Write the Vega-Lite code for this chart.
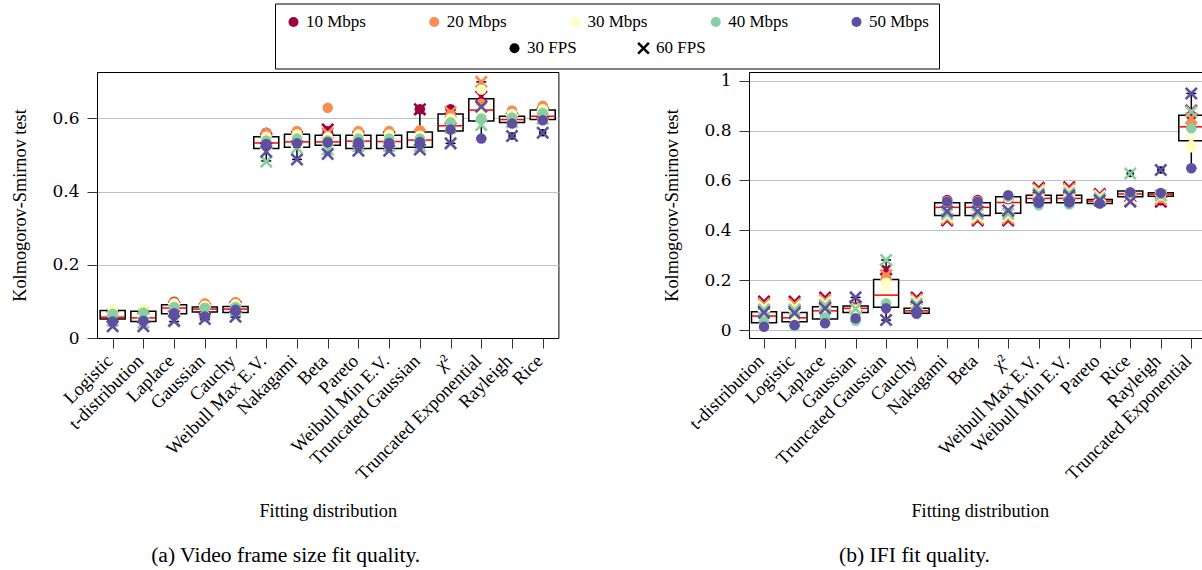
{
  "$schema": "https://vega.github.io/schema/vega-lite/v6.json",
  "autosize": {"type": "pad"},
  "padding": {"left": 9, "top": 3, "right": 0, "bottom": 0},
  "bounds": "flush",
  "spacing": 190,
  "resolve": {"scale": {"x": "independent", "y": "independent"}, "axis": {"x": "independent", "y": "independent"}},
  "datasets": {
    "box": [
      {"p":"a","c":"Logistic","lo":0.034,"q1":0.052,"md":0.057,"q3":0.075,"hi":0.080},
      {"p":"a","c":"t-distribution","lo":0.032,"q1":0.045,"md":0.055,"q3":0.073,"hi":0.082},
      {"p":"a","c":"Laplace","lo":0.045,"q1":0.066,"md":0.082,"q3":0.091,"hi":0.099},
      {"p":"a","c":"Gaussian","lo":0.050,"q1":0.071,"md":0.079,"q3":0.085,"hi":0.095},
      {"p":"a","c":"Cauchy","lo":0.057,"q1":0.070,"md":0.079,"q3":0.086,"hi":0.097},
      {"p":"a","c":"Weibull Max E.V.","lo":0.484,"q1":0.518,"md":0.533,"q3":0.550,"hi":0.561},
      {"p":"a","c":"Nakagami","lo":0.488,"q1":0.521,"md":0.536,"q3":0.557,"hi":0.566},
      {"p":"a","c":"Beta","lo":0.503,"q1":0.527,"md":0.536,"q3":0.554,"hi":0.570},
      {"p":"a","c":"Pareto","lo":0.512,"q1":0.518,"md":0.538,"q3":0.554,"hi":0.566},
      {"p":"a","c":"Weibull Min E.V.","lo":0.512,"q1":0.518,"md":0.537,"q3":0.554,"hi":0.566},
      {"p":"a","c":"Truncated Gaussian","lo":0.515,"q1":0.521,"md":0.541,"q3":0.563,"hi":0.625},
      {"p":"a","c":"χ²","lo":0.532,"q1":0.566,"md":0.580,"q3":0.612,"hi":0.625},
      {"p":"a","c":"Truncated Exponential","lo":0.545,"q1":0.593,"md":0.623,"q3":0.654,"hi":0.700},
      {"p":"a","c":"Rayleigh","lo":0.586,"q1":0.589,"md":0.597,"q3":0.606,"hi":0.622},
      {"p":"a","c":"Rice","lo":0.595,"q1":0.597,"md":0.606,"q3":0.623,"hi":0.635},
      {"p":"b","c":"t-distribution","lo":0.013,"q1":0.029,"md":0.056,"q3":0.073,"hi":0.114},
      {"p":"b","c":"Logistic","lo":0.015,"q1":0.033,"md":0.049,"q3":0.070,"hi":0.114},
      {"p":"b","c":"Laplace","lo":0.027,"q1":0.044,"md":0.077,"q3":0.093,"hi":0.130},
      {"p":"b","c":"Gaussian","lo":0.037,"q1":0.070,"md":0.087,"q3":0.096,"hi":0.131},
      {"p":"b","c":"Truncated Gaussian","lo":0.040,"q1":0.091,"md":0.140,"q3":0.203,"hi":0.281},
      {"p":"b","c":"Cauchy","lo":0.065,"q1":0.067,"md":0.077,"q3":0.087,"hi":0.130},
      {"p":"b","c":"Nakagami","lo":0.440,"q1":0.459,"md":0.492,"q3":0.511,"hi":0.522},
      {"p":"b","c":"Beta","lo":0.440,"q1":0.459,"md":0.492,"q3":0.511,"hi":0.522},
      {"p":"b","c":"χ²","lo":0.440,"q1":0.468,"md":0.512,"q3":0.535,"hi":0.541},
      {"p":"b","c":"Weibull Max E.V.","lo":0.500,"q1":0.511,"md":0.528,"q3":0.541,"hi":0.570},
      {"p":"b","c":"Weibull Min E.V.","lo":0.503,"q1":0.511,"md":0.528,"q3":0.541,"hi":0.572},
      {"p":"b","c":"Pareto","lo":0.507,"q1":0.508,"md":0.517,"q3":0.524,"hi":0.545},
      {"p":"b","c":"Rice","lo":0.515,"q1":0.535,"md":0.546,"q3":0.558,"hi":0.558},
      {"p":"b","c":"Rayleigh","lo":0.515,"q1":0.537,"md":0.545,"q3":0.551,"hi":0.551},
      {"p":"b","c":"Truncated Exponential","lo":0.649,"q1":0.759,"md":0.815,"q3":0.862,"hi":0.949}
    ],
    "out": [
      {"p":"a","c":"Beta","v":0.629},
      {"p":"a","c":"Rayleigh","v":0.552},
      {"p":"a","c":"Rice","v":0.561},
      {"p":"b","c":"Rice","v":0.628},
      {"p":"b","c":"Rayleigh","v":0.642}
    ],
    "pts": [
      {"p":"a","c":"Logistic","r":"10 Mbps","f":"30 FPS","v":0.068},{"p":"a","c":"Logistic","r":"10 Mbps","f":"60 FPS","v":0.058},{"p":"a","c":"Logistic","r":"20 Mbps","f":"30 FPS","v":0.072},{"p":"a","c":"Logistic","r":"20 Mbps","f":"60 FPS","v":0.056},{"p":"a","c":"Logistic","r":"30 Mbps","f":"30 FPS","v":0.079},{"p":"a","c":"Logistic","r":"30 Mbps","f":"60 FPS","v":0.054},{"p":"a","c":"Logistic","r":"40 Mbps","f":"30 FPS","v":0.066},{"p":"a","c":"Logistic","r":"40 Mbps","f":"60 FPS","v":0.048},{"p":"a","c":"Logistic","r":"50 Mbps","f":"30 FPS","v":0.045},{"p":"a","c":"Logistic","r":"50 Mbps","f":"60 FPS","v":0.032},
      {"p":"a","c":"t-distribution","r":"10 Mbps","f":"30 FPS","v":0.068},{"p":"a","c":"t-distribution","r":"10 Mbps","f":"60 FPS","v":0.055},{"p":"a","c":"t-distribution","r":"20 Mbps","f":"30 FPS","v":0.074},{"p":"a","c":"t-distribution","r":"20 Mbps","f":"60 FPS","v":0.052},{"p":"a","c":"t-distribution","r":"30 Mbps","f":"30 FPS","v":0.082},{"p":"a","c":"t-distribution","r":"30 Mbps","f":"60 FPS","v":0.050},{"p":"a","c":"t-distribution","r":"40 Mbps","f":"30 FPS","v":0.070},{"p":"a","c":"t-distribution","r":"40 Mbps","f":"60 FPS","v":0.042},{"p":"a","c":"t-distribution","r":"50 Mbps","f":"30 FPS","v":0.047},{"p":"a","c":"t-distribution","r":"50 Mbps","f":"60 FPS","v":0.032},
      {"p":"a","c":"Laplace","r":"10 Mbps","f":"30 FPS","v":0.099},{"p":"a","c":"Laplace","r":"10 Mbps","f":"60 FPS","v":0.085},{"p":"a","c":"Laplace","r":"20 Mbps","f":"30 FPS","v":0.097},{"p":"a","c":"Laplace","r":"20 Mbps","f":"60 FPS","v":0.083},{"p":"a","c":"Laplace","r":"30 Mbps","f":"30 FPS","v":0.094},{"p":"a","c":"Laplace","r":"30 Mbps","f":"60 FPS","v":0.080},{"p":"a","c":"Laplace","r":"40 Mbps","f":"30 FPS","v":0.085},{"p":"a","c":"Laplace","r":"40 Mbps","f":"60 FPS","v":0.045},{"p":"a","c":"Laplace","r":"50 Mbps","f":"30 FPS","v":0.068},{"p":"a","c":"Laplace","r":"50 Mbps","f":"60 FPS","v":0.047},
      {"p":"a","c":"Gaussian","r":"10 Mbps","f":"30 FPS","v":0.090},{"p":"a","c":"Gaussian","r":"10 Mbps","f":"60 FPS","v":0.080},{"p":"a","c":"Gaussian","r":"20 Mbps","f":"30 FPS","v":0.095},{"p":"a","c":"Gaussian","r":"20 Mbps","f":"60 FPS","v":0.078},{"p":"a","c":"Gaussian","r":"30 Mbps","f":"30 FPS","v":0.088},{"p":"a","c":"Gaussian","r":"30 Mbps","f":"60 FPS","v":0.075},{"p":"a","c":"Gaussian","r":"40 Mbps","f":"30 FPS","v":0.083},{"p":"a","c":"Gaussian","r":"40 Mbps","f":"60 FPS","v":0.070},{"p":"a","c":"Gaussian","r":"50 Mbps","f":"30 FPS","v":0.059},{"p":"a","c":"Gaussian","r":"50 Mbps","f":"60 FPS","v":0.052},
      {"p":"a","c":"Cauchy","r":"10 Mbps","f":"30 FPS","v":0.097},{"p":"a","c":"Cauchy","r":"10 Mbps","f":"60 FPS","v":0.085},{"p":"a","c":"Cauchy","r":"20 Mbps","f":"30 FPS","v":0.097},{"p":"a","c":"Cauchy","r":"20 Mbps","f":"60 FPS","v":0.082},{"p":"a","c":"Cauchy","r":"30 Mbps","f":"30 FPS","v":0.092},{"p":"a","c":"Cauchy","r":"30 Mbps","f":"60 FPS","v":0.080},{"p":"a","c":"Cauchy","r":"40 Mbps","f":"30 FPS","v":0.085},{"p":"a","c":"Cauchy","r":"40 Mbps","f":"60 FPS","v":0.075},{"p":"a","c":"Cauchy","r":"50 Mbps","f":"30 FPS","v":0.077},{"p":"a","c":"Cauchy","r":"50 Mbps","f":"60 FPS","v":0.058},
      {"p":"a","c":"Weibull Max E.V.","r":"10 Mbps","f":"30 FPS","v":0.561},{"p":"a","c":"Weibull Max E.V.","r":"10 Mbps","f":"60 FPS","v":0.545},{"p":"a","c":"Weibull Max E.V.","r":"20 Mbps","f":"30 FPS","v":0.560},{"p":"a","c":"Weibull Max E.V.","r":"20 Mbps","f":"60 FPS","v":0.540},{"p":"a","c":"Weibull Max E.V.","r":"30 Mbps","f":"30 FPS","v":0.550},{"p":"a","c":"Weibull Max E.V.","r":"30 Mbps","f":"60 FPS","v":0.530},{"p":"a","c":"Weibull Max E.V.","r":"40 Mbps","f":"30 FPS","v":0.540},{"p":"a","c":"Weibull Max E.V.","r":"40 Mbps","f":"60 FPS","v":0.482},{"p":"a","c":"Weibull Max E.V.","r":"50 Mbps","f":"30 FPS","v":0.530},{"p":"a","c":"Weibull Max E.V.","r":"50 Mbps","f":"60 FPS","v":0.509},
      {"p":"a","c":"Nakagami","r":"10 Mbps","f":"30 FPS","v":0.563},{"p":"a","c":"Nakagami","r":"10 Mbps","f":"60 FPS","v":0.550},{"p":"a","c":"Nakagami","r":"20 Mbps","f":"30 FPS","v":0.566},{"p":"a","c":"Nakagami","r":"20 Mbps","f":"60 FPS","v":0.545},{"p":"a","c":"Nakagami","r":"30 Mbps","f":"30 FPS","v":0.556},{"p":"a","c":"Nakagami","r":"30 Mbps","f":"60 FPS","v":0.535},{"p":"a","c":"Nakagami","r":"40 Mbps","f":"30 FPS","v":0.545},{"p":"a","c":"Nakagami","r":"40 Mbps","f":"60 FPS","v":0.520},{"p":"a","c":"Nakagami","r":"50 Mbps","f":"30 FPS","v":0.532},{"p":"a","c":"Nakagami","r":"50 Mbps","f":"60 FPS","v":0.488},
      {"p":"a","c":"Beta","r":"10 Mbps","f":"30 FPS","v":0.565},{"p":"a","c":"Beta","r":"10 Mbps","f":"60 FPS","v":0.570},{"p":"a","c":"Beta","r":"20 Mbps","f":"30 FPS","v":0.629},{"p":"a","c":"Beta","r":"20 Mbps","f":"60 FPS","v":0.560},{"p":"a","c":"Beta","r":"30 Mbps","f":"30 FPS","v":0.550},{"p":"a","c":"Beta","r":"30 Mbps","f":"60 FPS","v":0.530},{"p":"a","c":"Beta","r":"40 Mbps","f":"30 FPS","v":0.540},{"p":"a","c":"Beta","r":"40 Mbps","f":"60 FPS","v":0.515},{"p":"a","c":"Beta","r":"50 Mbps","f":"30 FPS","v":0.535},{"p":"a","c":"Beta","r":"50 Mbps","f":"60 FPS","v":0.503},
      {"p":"a","c":"Pareto","r":"10 Mbps","f":"30 FPS","v":0.562},{"p":"a","c":"Pareto","r":"10 Mbps","f":"60 FPS","v":0.550},{"p":"a","c":"Pareto","r":"20 Mbps","f":"30 FPS","v":0.566},{"p":"a","c":"Pareto","r":"20 Mbps","f":"60 FPS","v":0.545},{"p":"a","c":"Pareto","r":"30 Mbps","f":"30 FPS","v":0.556},{"p":"a","c":"Pareto","r":"30 Mbps","f":"60 FPS","v":0.535},{"p":"a","c":"Pareto","r":"40 Mbps","f":"30 FPS","v":0.545},{"p":"a","c":"Pareto","r":"40 Mbps","f":"60 FPS","v":0.525},{"p":"a","c":"Pareto","r":"50 Mbps","f":"30 FPS","v":0.534},{"p":"a","c":"Pareto","r":"50 Mbps","f":"60 FPS","v":0.512},
      {"p":"a","c":"Weibull Min E.V.","r":"10 Mbps","f":"30 FPS","v":0.562},{"p":"a","c":"Weibull Min E.V.","r":"10 Mbps","f":"60 FPS","v":0.550},{"p":"a","c":"Weibull Min E.V.","r":"20 Mbps","f":"30 FPS","v":0.566},{"p":"a","c":"Weibull Min E.V.","r":"20 Mbps","f":"60 FPS","v":0.545},{"p":"a","c":"Weibull Min E.V.","r":"30 Mbps","f":"30 FPS","v":0.556},{"p":"a","c":"Weibull Min E.V.","r":"30 Mbps","f":"60 FPS","v":0.535},{"p":"a","c":"Weibull Min E.V.","r":"40 Mbps","f":"30 FPS","v":0.545},{"p":"a","c":"Weibull Min E.V.","r":"40 Mbps","f":"60 FPS","v":0.525},{"p":"a","c":"Weibull Min E.V.","r":"50 Mbps","f":"30 FPS","v":0.533},{"p":"a","c":"Weibull Min E.V.","r":"50 Mbps","f":"60 FPS","v":0.512},
      {"p":"a","c":"Truncated Gaussian","r":"10 Mbps","f":"30 FPS","v":0.625},{"p":"a","c":"Truncated Gaussian","r":"10 Mbps","f":"60 FPS","v":0.625},{"p":"a","c":"Truncated Gaussian","r":"20 Mbps","f":"30 FPS","v":0.568},{"p":"a","c":"Truncated Gaussian","r":"20 Mbps","f":"60 FPS","v":0.555},{"p":"a","c":"Truncated Gaussian","r":"30 Mbps","f":"30 FPS","v":0.553},{"p":"a","c":"Truncated Gaussian","r":"30 Mbps","f":"60 FPS","v":0.540},{"p":"a","c":"Truncated Gaussian","r":"40 Mbps","f":"30 FPS","v":0.545},{"p":"a","c":"Truncated Gaussian","r":"40 Mbps","f":"60 FPS","v":0.525},{"p":"a","c":"Truncated Gaussian","r":"50 Mbps","f":"30 FPS","v":0.536},{"p":"a","c":"Truncated Gaussian","r":"50 Mbps","f":"60 FPS","v":0.515},
      {"p":"a","c":"χ²","r":"10 Mbps","f":"30 FPS","v":0.625},{"p":"a","c":"χ²","r":"10 Mbps","f":"60 FPS","v":0.600},{"p":"a","c":"χ²","r":"20 Mbps","f":"30 FPS","v":0.610},{"p":"a","c":"χ²","r":"20 Mbps","f":"60 FPS","v":0.617},{"p":"a","c":"χ²","r":"30 Mbps","f":"30 FPS","v":0.600},{"p":"a","c":"χ²","r":"30 Mbps","f":"60 FPS","v":0.585},{"p":"a","c":"χ²","r":"40 Mbps","f":"30 FPS","v":0.590},{"p":"a","c":"χ²","r":"40 Mbps","f":"60 FPS","v":0.575},{"p":"a","c":"χ²","r":"50 Mbps","f":"30 FPS","v":0.570},{"p":"a","c":"χ²","r":"50 Mbps","f":"60 FPS","v":0.532},
      {"p":"a","c":"Truncated Exponential","r":"10 Mbps","f":"30 FPS","v":0.645},{"p":"a","c":"Truncated Exponential","r":"10 Mbps","f":"60 FPS","v":0.660},{"p":"a","c":"Truncated Exponential","r":"20 Mbps","f":"30 FPS","v":0.640},{"p":"a","c":"Truncated Exponential","r":"20 Mbps","f":"60 FPS","v":0.700},{"p":"a","c":"Truncated Exponential","r":"30 Mbps","f":"30 FPS","v":0.679},{"p":"a","c":"Truncated Exponential","r":"30 Mbps","f":"60 FPS","v":0.620},{"p":"a","c":"Truncated Exponential","r":"40 Mbps","f":"30 FPS","v":0.600},{"p":"a","c":"Truncated Exponential","r":"40 Mbps","f":"60 FPS","v":0.582},{"p":"a","c":"Truncated Exponential","r":"50 Mbps","f":"30 FPS","v":0.545},{"p":"a","c":"Truncated Exponential","r":"50 Mbps","f":"60 FPS","v":0.632},
      {"p":"a","c":"Rayleigh","r":"10 Mbps","f":"30 FPS","v":0.615},{"p":"a","c":"Rayleigh","r":"10 Mbps","f":"60 FPS","v":0.600},{"p":"a","c":"Rayleigh","r":"20 Mbps","f":"30 FPS","v":0.622},{"p":"a","c":"Rayleigh","r":"20 Mbps","f":"60 FPS","v":0.598},{"p":"a","c":"Rayleigh","r":"30 Mbps","f":"30 FPS","v":0.612},{"p":"a","c":"Rayleigh","r":"30 Mbps","f":"60 FPS","v":0.595},{"p":"a","c":"Rayleigh","r":"40 Mbps","f":"30 FPS","v":0.603},{"p":"a","c":"Rayleigh","r":"40 Mbps","f":"60 FPS","v":0.590},{"p":"a","c":"Rayleigh","r":"50 Mbps","f":"30 FPS","v":0.586},{"p":"a","c":"Rayleigh","r":"50 Mbps","f":"60 FPS","v":0.552},
      {"p":"a","c":"Rice","r":"10 Mbps","f":"30 FPS","v":0.628},{"p":"a","c":"Rice","r":"10 Mbps","f":"60 FPS","v":0.615},{"p":"a","c":"Rice","r":"20 Mbps","f":"30 FPS","v":0.635},{"p":"a","c":"Rice","r":"20 Mbps","f":"60 FPS","v":0.612},{"p":"a","c":"Rice","r":"30 Mbps","f":"30 FPS","v":0.625},{"p":"a","c":"Rice","r":"30 Mbps","f":"60 FPS","v":0.606},{"p":"a","c":"Rice","r":"40 Mbps","f":"30 FPS","v":0.615},{"p":"a","c":"Rice","r":"40 Mbps","f":"60 FPS","v":0.600},{"p":"a","c":"Rice","r":"50 Mbps","f":"30 FPS","v":0.595},{"p":"a","c":"Rice","r":"50 Mbps","f":"60 FPS","v":0.561},
      {"p":"b","c":"t-distribution","r":"10 Mbps","f":"30 FPS","v":0.060},{"p":"b","c":"t-distribution","r":"10 Mbps","f":"60 FPS","v":0.114},{"p":"b","c":"t-distribution","r":"20 Mbps","f":"30 FPS","v":0.055},{"p":"b","c":"t-distribution","r":"20 Mbps","f":"60 FPS","v":0.104},{"p":"b","c":"t-distribution","r":"30 Mbps","f":"30 FPS","v":0.050},{"p":"b","c":"t-distribution","r":"30 Mbps","f":"60 FPS","v":0.094},{"p":"b","c":"t-distribution","r":"40 Mbps","f":"30 FPS","v":0.035},{"p":"b","c":"t-distribution","r":"40 Mbps","f":"60 FPS","v":0.082},{"p":"b","c":"t-distribution","r":"50 Mbps","f":"30 FPS","v":0.013},{"p":"b","c":"t-distribution","r":"50 Mbps","f":"60 FPS","v":0.070},
      {"p":"b","c":"Logistic","r":"10 Mbps","f":"30 FPS","v":0.055},{"p":"b","c":"Logistic","r":"10 Mbps","f":"60 FPS","v":0.114},{"p":"b","c":"Logistic","r":"20 Mbps","f":"30 FPS","v":0.050},{"p":"b","c":"Logistic","r":"20 Mbps","f":"60 FPS","v":0.104},{"p":"b","c":"Logistic","r":"30 Mbps","f":"30 FPS","v":0.045},{"p":"b","c":"Logistic","r":"30 Mbps","f":"60 FPS","v":0.094},{"p":"b","c":"Logistic","r":"40 Mbps","f":"30 FPS","v":0.015},{"p":"b","c":"Logistic","r":"40 Mbps","f":"60 FPS","v":0.082},{"p":"b","c":"Logistic","r":"50 Mbps","f":"30 FPS","v":0.020},{"p":"b","c":"Logistic","r":"50 Mbps","f":"60 FPS","v":0.068},
      {"p":"b","c":"Laplace","r":"10 Mbps","f":"30 FPS","v":0.080},{"p":"b","c":"Laplace","r":"10 Mbps","f":"60 FPS","v":0.130},{"p":"b","c":"Laplace","r":"20 Mbps","f":"30 FPS","v":0.075},{"p":"b","c":"Laplace","r":"20 Mbps","f":"60 FPS","v":0.120},{"p":"b","c":"Laplace","r":"30 Mbps","f":"30 FPS","v":0.070},{"p":"b","c":"Laplace","r":"30 Mbps","f":"60 FPS","v":0.110},{"p":"b","c":"Laplace","r":"40 Mbps","f":"30 FPS","v":0.050},{"p":"b","c":"Laplace","r":"40 Mbps","f":"60 FPS","v":0.100},{"p":"b","c":"Laplace","r":"50 Mbps","f":"30 FPS","v":0.027},{"p":"b","c":"Laplace","r":"50 Mbps","f":"60 FPS","v":0.087},
      {"p":"b","c":"Gaussian","r":"10 Mbps","f":"30 FPS","v":0.090},{"p":"b","c":"Gaussian","r":"10 Mbps","f":"60 FPS","v":0.095},{"p":"b","c":"Gaussian","r":"20 Mbps","f":"30 FPS","v":0.085},{"p":"b","c":"Gaussian","r":"20 Mbps","f":"60 FPS","v":0.092},{"p":"b","c":"Gaussian","r":"30 Mbps","f":"30 FPS","v":0.080},{"p":"b","c":"Gaussian","r":"30 Mbps","f":"60 FPS","v":0.088},{"p":"b","c":"Gaussian","r":"40 Mbps","f":"30 FPS","v":0.037},{"p":"b","c":"Gaussian","r":"40 Mbps","f":"60 FPS","v":0.085},{"p":"b","c":"Gaussian","r":"50 Mbps","f":"30 FPS","v":0.047},{"p":"b","c":"Gaussian","r":"50 Mbps","f":"60 FPS","v":0.131},
      {"p":"b","c":"Truncated Gaussian","r":"10 Mbps","f":"30 FPS","v":0.225},{"p":"b","c":"Truncated Gaussian","r":"10 Mbps","f":"60 FPS","v":0.243},{"p":"b","c":"Truncated Gaussian","r":"20 Mbps","f":"30 FPS","v":0.210},{"p":"b","c":"Truncated Gaussian","r":"20 Mbps","f":"60 FPS","v":0.220},{"p":"b","c":"Truncated Gaussian","r":"30 Mbps","f":"30 FPS","v":0.190},{"p":"b","c":"Truncated Gaussian","r":"30 Mbps","f":"60 FPS","v":0.174},{"p":"b","c":"Truncated Gaussian","r":"40 Mbps","f":"30 FPS","v":0.107},{"p":"b","c":"Truncated Gaussian","r":"40 Mbps","f":"60 FPS","v":0.281},{"p":"b","c":"Truncated Gaussian","r":"50 Mbps","f":"30 FPS","v":0.087},{"p":"b","c":"Truncated Gaussian","r":"50 Mbps","f":"60 FPS","v":0.040},
      {"p":"b","c":"Cauchy","r":"10 Mbps","f":"30 FPS","v":0.080},{"p":"b","c":"Cauchy","r":"10 Mbps","f":"60 FPS","v":0.130},{"p":"b","c":"Cauchy","r":"20 Mbps","f":"30 FPS","v":0.078},{"p":"b","c":"Cauchy","r":"20 Mbps","f":"60 FPS","v":0.122},{"p":"b","c":"Cauchy","r":"30 Mbps","f":"30 FPS","v":0.075},{"p":"b","c":"Cauchy","r":"30 Mbps","f":"60 FPS","v":0.114},{"p":"b","c":"Cauchy","r":"40 Mbps","f":"30 FPS","v":0.070},{"p":"b","c":"Cauchy","r":"40 Mbps","f":"60 FPS","v":0.105},{"p":"b","c":"Cauchy","r":"50 Mbps","f":"30 FPS","v":0.065},{"p":"b","c":"Cauchy","r":"50 Mbps","f":"60 FPS","v":0.095},
      {"p":"b","c":"Nakagami","r":"10 Mbps","f":"30 FPS","v":0.522},{"p":"b","c":"Nakagami","r":"10 Mbps","f":"60 FPS","v":0.440},{"p":"b","c":"Nakagami","r":"20 Mbps","f":"30 FPS","v":0.518},{"p":"b","c":"Nakagami","r":"20 Mbps","f":"60 FPS","v":0.447},{"p":"b","c":"Nakagami","r":"30 Mbps","f":"30 FPS","v":0.515},{"p":"b","c":"Nakagami","r":"30 Mbps","f":"60 FPS","v":0.455},{"p":"b","c":"Nakagami","r":"40 Mbps","f":"30 FPS","v":0.513},{"p":"b","c":"Nakagami","r":"40 Mbps","f":"60 FPS","v":0.465},{"p":"b","c":"Nakagami","r":"50 Mbps","f":"30 FPS","v":0.515},{"p":"b","c":"Nakagami","r":"50 Mbps","f":"60 FPS","v":0.476},
      {"p":"b","c":"Beta","r":"10 Mbps","f":"30 FPS","v":0.522},{"p":"b","c":"Beta","r":"10 Mbps","f":"60 FPS","v":0.440},{"p":"b","c":"Beta","r":"20 Mbps","f":"30 FPS","v":0.518},{"p":"b","c":"Beta","r":"20 Mbps","f":"60 FPS","v":0.447},{"p":"b","c":"Beta","r":"30 Mbps","f":"30 FPS","v":0.515},{"p":"b","c":"Beta","r":"30 Mbps","f":"60 FPS","v":0.455},{"p":"b","c":"Beta","r":"40 Mbps","f":"30 FPS","v":0.513},{"p":"b","c":"Beta","r":"40 Mbps","f":"60 FPS","v":0.465},{"p":"b","c":"Beta","r":"50 Mbps","f":"30 FPS","v":0.515},{"p":"b","c":"Beta","r":"50 Mbps","f":"60 FPS","v":0.476},
      {"p":"b","c":"χ²","r":"10 Mbps","f":"30 FPS","v":0.525},{"p":"b","c":"χ²","r":"10 Mbps","f":"60 FPS","v":0.440},{"p":"b","c":"χ²","r":"20 Mbps","f":"30 FPS","v":0.528},{"p":"b","c":"χ²","r":"20 Mbps","f":"60 FPS","v":0.448},{"p":"b","c":"χ²","r":"30 Mbps","f":"30 FPS","v":0.530},{"p":"b","c":"χ²","r":"30 Mbps","f":"60 FPS","v":0.457},{"p":"b","c":"χ²","r":"40 Mbps","f":"30 FPS","v":0.535},{"p":"b","c":"χ²","r":"40 Mbps","f":"60 FPS","v":0.466},{"p":"b","c":"χ²","r":"50 Mbps","f":"30 FPS","v":0.541},{"p":"b","c":"χ²","r":"50 Mbps","f":"60 FPS","v":0.480},
      {"p":"b","c":"Weibull Max E.V.","r":"10 Mbps","f":"30 FPS","v":0.520},{"p":"b","c":"Weibull Max E.V.","r":"10 Mbps","f":"60 FPS","v":0.570},{"p":"b","c":"Weibull Max E.V.","r":"20 Mbps","f":"30 FPS","v":0.518},{"p":"b","c":"Weibull Max E.V.","r":"20 Mbps","f":"60 FPS","v":0.563},{"p":"b","c":"Weibull Max E.V.","r":"30 Mbps","f":"30 FPS","v":0.515},{"p":"b","c":"Weibull Max E.V.","r":"30 Mbps","f":"60 FPS","v":0.556},{"p":"b","c":"Weibull Max E.V.","r":"40 Mbps","f":"30 FPS","v":0.500},{"p":"b","c":"Weibull Max E.V.","r":"40 Mbps","f":"60 FPS","v":0.548},{"p":"b","c":"Weibull Max E.V.","r":"50 Mbps","f":"30 FPS","v":0.510},{"p":"b","c":"Weibull Max E.V.","r":"50 Mbps","f":"60 FPS","v":0.540},
      {"p":"b","c":"Weibull Min E.V.","r":"10 Mbps","f":"30 FPS","v":0.520},{"p":"b","c":"Weibull Min E.V.","r":"10 Mbps","f":"60 FPS","v":0.572},{"p":"b","c":"Weibull Min E.V.","r":"20 Mbps","f":"30 FPS","v":0.518},{"p":"b","c":"Weibull Min E.V.","r":"20 Mbps","f":"60 FPS","v":0.565},{"p":"b","c":"Weibull Min E.V.","r":"30 Mbps","f":"30 FPS","v":0.515},{"p":"b","c":"Weibull Min E.V.","r":"30 Mbps","f":"60 FPS","v":0.557},{"p":"b","c":"Weibull Min E.V.","r":"40 Mbps","f":"30 FPS","v":0.503},{"p":"b","c":"Weibull Min E.V.","r":"40 Mbps","f":"60 FPS","v":0.549},{"p":"b","c":"Weibull Min E.V.","r":"50 Mbps","f":"30 FPS","v":0.512},{"p":"b","c":"Weibull Min E.V.","r":"50 Mbps","f":"60 FPS","v":0.540},
      {"p":"b","c":"Pareto","r":"10 Mbps","f":"30 FPS","v":0.515},{"p":"b","c":"Pareto","r":"10 Mbps","f":"60 FPS","v":0.545},{"p":"b","c":"Pareto","r":"20 Mbps","f":"30 FPS","v":0.512},{"p":"b","c":"Pareto","r":"20 Mbps","f":"60 FPS","v":0.540},{"p":"b","c":"Pareto","r":"30 Mbps","f":"30 FPS","v":0.510},{"p":"b","c":"Pareto","r":"30 Mbps","f":"60 FPS","v":0.535},{"p":"b","c":"Pareto","r":"40 Mbps","f":"30 FPS","v":0.508},{"p":"b","c":"Pareto","r":"40 Mbps","f":"60 FPS","v":0.528},{"p":"b","c":"Pareto","r":"50 Mbps","f":"30 FPS","v":0.507},{"p":"b","c":"Pareto","r":"50 Mbps","f":"60 FPS","v":0.520},
      {"p":"b","c":"Rice","r":"10 Mbps","f":"30 FPS","v":0.550},{"p":"b","c":"Rice","r":"10 Mbps","f":"60 FPS","v":0.535},{"p":"b","c":"Rice","r":"20 Mbps","f":"30 FPS","v":0.548},{"p":"b","c":"Rice","r":"20 Mbps","f":"60 FPS","v":0.520},{"p":"b","c":"Rice","r":"30 Mbps","f":"30 FPS","v":0.552},{"p":"b","c":"Rice","r":"30 Mbps","f":"60 FPS","v":0.530},{"p":"b","c":"Rice","r":"40 Mbps","f":"30 FPS","v":0.550},{"p":"b","c":"Rice","r":"40 Mbps","f":"60 FPS","v":0.628},{"p":"b","c":"Rice","r":"50 Mbps","f":"30 FPS","v":0.553},{"p":"b","c":"Rice","r":"50 Mbps","f":"60 FPS","v":0.515},
      {"p":"b","c":"Rayleigh","r":"10 Mbps","f":"30 FPS","v":0.520},{"p":"b","c":"Rayleigh","r":"10 Mbps","f":"60 FPS","v":0.515},{"p":"b","c":"Rayleigh","r":"20 Mbps","f":"30 FPS","v":0.530},{"p":"b","c":"Rayleigh","r":"20 Mbps","f":"60 FPS","v":0.525},{"p":"b","c":"Rayleigh","r":"30 Mbps","f":"30 FPS","v":0.540},{"p":"b","c":"Rayleigh","r":"30 Mbps","f":"60 FPS","v":0.535},{"p":"b","c":"Rayleigh","r":"40 Mbps","f":"30 FPS","v":0.545},{"p":"b","c":"Rayleigh","r":"40 Mbps","f":"60 FPS","v":0.540},{"p":"b","c":"Rayleigh","r":"50 Mbps","f":"30 FPS","v":0.550},{"p":"b","c":"Rayleigh","r":"50 Mbps","f":"60 FPS","v":0.642},
      {"p":"b","c":"Truncated Exponential","r":"10 Mbps","f":"30 FPS","v":0.860},{"p":"b","c":"Truncated Exponential","r":"10 Mbps","f":"60 FPS","v":0.880},{"p":"b","c":"Truncated Exponential","r":"20 Mbps","f":"30 FPS","v":0.830},{"p":"b","c":"Truncated Exponential","r":"20 Mbps","f":"60 FPS","v":0.850},{"p":"b","c":"Truncated Exponential","r":"30 Mbps","f":"30 FPS","v":0.733},{"p":"b","c":"Truncated Exponential","r":"30 Mbps","f":"60 FPS","v":0.760},{"p":"b","c":"Truncated Exponential","r":"40 Mbps","f":"30 FPS","v":0.809},{"p":"b","c":"Truncated Exponential","r":"40 Mbps","f":"60 FPS","v":0.876},{"p":"b","c":"Truncated Exponential","r":"50 Mbps","f":"30 FPS","v":0.649},{"p":"b","c":"Truncated Exponential","r":"50 Mbps","f":"60 FPS","v":0.949}
    ]
  },
  "hconcat": [
    {
      "width": 461.4,
      "height": 266,
      "title": {"text": "(a) Video frame size fit quality.", "orient": "bottom", "anchor": "middle", "frame": "group", "dx": -42, "offset": 26},
      "encoding": {
        "x": {"field": "c", "type": "nominal", "scale": {"type": "point", "domain": ["Logistic","t-distribution","Laplace","Gaussian","Cauchy","Weibull Max E.V.","Nakagami","Beta","Pareto","Weibull Min E.V.","Truncated Gaussian","χ²","Truncated Exponential","Rayleigh","Rice"], "padding": 0.51}, "axis": {"title": "Fitting distribution", "titleY": 164}}
      },
      "layer": [
        {"data": {"name": "box"}, "transform": [{"filter": "datum.p == 'a'"}], "mark": {"type": "rule", "color": "black", "strokeWidth": 1.5},
         "encoding": {"y": {"field": "lo", "type": "quantitative", "scale": {"domain": [0, 0.727], "nice": false, "zero": false}, "axis": {"values": [0, 0.2, 0.4, 0.6], "format": ".1~f", "title": "Kolmogorov-Smirnov test"}}, "y2": {"field": "hi"}}},
        {"data": {"name": "box"}, "transform": [{"filter": "datum.p == 'a'"}], "mark": {"type": "tick", "color": "black", "size": 10, "thickness": 1.5, "opacity": 1},
         "encoding": {"y": {"field": "lo", "type": "quantitative", "scale": {"domain": [0, 0.727], "nice": false, "zero": false}, "axis": {"values": [0, 0.2, 0.4, 0.6], "format": ".1~f", "title": "Kolmogorov-Smirnov test"}}}},
        {"data": {"name": "box"}, "transform": [{"filter": "datum.p == 'a'"}], "mark": {"type": "tick", "color": "black", "size": 10, "thickness": 1.5, "opacity": 1},
         "encoding": {"y": {"field": "hi", "type": "quantitative", "scale": {"domain": [0, 0.727], "nice": false, "zero": false}, "axis": {"values": [0, 0.2, 0.4, 0.6], "format": ".1~f", "title": "Kolmogorov-Smirnov test"}}}},
        {"data": {"name": "box"}, "transform": [{"filter": "datum.p == 'a'"}], "mark": {"type": "bar", "size": 25, "fill": "white", "stroke": "black", "strokeWidth": 1.5},
         "encoding": {"y": {"field": "q1", "type": "quantitative", "scale": {"domain": [0, 0.727], "nice": false, "zero": false}, "axis": {"values": [0, 0.2, 0.4, 0.6], "format": ".1~f", "title": "Kolmogorov-Smirnov test"}}, "y2": {"field": "q3"}}},
        {"data": {"name": "box"}, "transform": [{"filter": "datum.p == 'a'"}], "mark": {"type": "tick", "color": "red", "size": 24, "thickness": 1.5, "opacity": 1},
         "encoding": {"y": {"field": "md", "type": "quantitative", "scale": {"domain": [0, 0.727], "nice": false, "zero": false}, "axis": {"values": [0, 0.2, 0.4, 0.6], "format": ".1~f", "title": "Kolmogorov-Smirnov test"}}}},
        {"data": {"name": "out"}, "transform": [{"filter": "datum.p == 'a'"}], "mark": {"type": "point", "filled": true, "color": "black", "size": 55, "opacity": 1, "shape": "circle"},
         "encoding": {"y": {"field": "v", "type": "quantitative", "scale": {"domain": [0, 0.727], "nice": false, "zero": false}, "axis": {"values": [0, 0.2, 0.4, 0.6], "format": ".1~f", "title": "Kolmogorov-Smirnov test"}}}},
        {"data": {"name": "pts"}, "transform": [{"filter": "datum.p == 'a'"}], "mark": {"type": "point", "filled": true, "size": 110, "opacity": 1, "strokeWidth": 0},
         "encoding": {
           "y": {"field": "v", "type": "quantitative", "scale": {"domain": [0, 0.727], "nice": false, "zero": false}, "axis": {"values": [0, 0.2, 0.4, 0.6], "format": ".1~f", "title": "Kolmogorov-Smirnov test"}},
           "color": {"field": "r", "type": "nominal", "scale": {"domain": ["10 Mbps","20 Mbps","30 Mbps","40 Mbps","50 Mbps"], "range": ["#9e0142","#f88d52","#ffffbf","#88d0a4","#5e4fa2"]},
             "legend": {"orient": "none", "legendX": 178, "legendY": -68.5, "direction": "horizontal", "columns": 5, "columnPadding": 59.75, "gridAlign": "none", "title": " ", "titleOrient": "bottom", "titleFontSize": 20, "titlePadding": 8, "padding": 10, "strokeColor": "black", "symbolType": "circle", "symbolSize": 100, "symbolStrokeWidth": 0, "symbolOpacity": 1, "labelFontSize": 17, "labelFont": "Liberation Serif", "labelColor": "black", "labelOffset": 4}},
           "shape": {"field": "f", "type": "nominal", "scale": {"domain": ["30 FPS","60 FPS"], "range": ["circle", "M-1.25,-0.9L-0.9,-1.25L0,-0.35L0.9,-1.25L1.25,-0.9L0.35,0L1.25,0.9L0.9,1.25L0,0.35L-0.9,1.25L-1.25,0.9L-0.35,0Z"]},
             "legend": {"orient": "none", "legendX": 409, "legendY": -32.5, "direction": "horizontal", "columns": 2, "columnPadding": 58, "title": null, "padding": 0, "symbolSize": 100, "symbolFillColor": "black", "symbolStrokeColor": "black", "symbolStrokeWidth": 0, "symbolOpacity": 1, "labelFontSize": 17, "labelFont": "Liberation Serif", "labelColor": "black", "labelOffset": 4}}
         }}
      ]
    },
    {
      "width": 455,
      "height": 266,
      "title": {"text": "(b) IFI fit quality.", "orient": "bottom", "anchor": "middle", "frame": "group", "dx": -62, "offset": 26},
      "encoding": {
        "x": {"field": "c", "type": "nominal", "scale": {"type": "point", "domain": ["t-distribution","Logistic","Laplace","Gaussian","Truncated Gaussian","Cauchy","Nakagami","Beta","χ²","Weibull Max E.V.","Weibull Min E.V.","Pareto","Rice","Rayleigh","Truncated Exponential"], "padding": 0.454, "align": 0.542}, "axis": {"title": "Fitting distribution", "titleY": 164, "titleX": 230.7}}
      },
      "layer": [
        {"data": {"name": "box"}, "transform": [{"filter": "datum.p == 'b'"}], "mark": {"type": "rule", "color": "black", "strokeWidth": 1.5},
         "encoding": {"y": {"field": "lo", "type": "quantitative", "scale": {"domain": [-0.032, 1.035], "nice": false, "zero": false}, "axis": {"values": [0, 0.2, 0.4, 0.6, 0.8, 1], "format": ".1~f", "title": "Kolmogorov-Smirnov test"}}, "y2": {"field": "hi"}}},
        {"data": {"name": "box"}, "transform": [{"filter": "datum.p == 'b'"}], "mark": {"type": "tick", "color": "black", "size": 10, "thickness": 1.5, "opacity": 1},
         "encoding": {"y": {"field": "lo", "type": "quantitative", "scale": {"domain": [-0.032, 1.035], "nice": false, "zero": false}, "axis": {"values": [0, 0.2, 0.4, 0.6, 0.8, 1], "format": ".1~f", "title": "Kolmogorov-Smirnov test"}}}},
        {"data": {"name": "box"}, "transform": [{"filter": "datum.p == 'b'"}], "mark": {"type": "tick", "color": "black", "size": 10, "thickness": 1.5, "opacity": 1},
         "encoding": {"y": {"field": "hi", "type": "quantitative", "scale": {"domain": [-0.032, 1.035], "nice": false, "zero": false}, "axis": {"values": [0, 0.2, 0.4, 0.6, 0.8, 1], "format": ".1~f", "title": "Kolmogorov-Smirnov test"}}}},
        {"data": {"name": "box"}, "transform": [{"filter": "datum.p == 'b'"}], "mark": {"type": "bar", "size": 25, "fill": "white", "stroke": "black", "strokeWidth": 1.5},
         "encoding": {"y": {"field": "q1", "type": "quantitative", "scale": {"domain": [-0.032, 1.035], "nice": false, "zero": false}, "axis": {"values": [0, 0.2, 0.4, 0.6, 0.8, 1], "format": ".1~f", "title": "Kolmogorov-Smirnov test"}}, "y2": {"field": "q3"}}},
        {"data": {"name": "box"}, "transform": [{"filter": "datum.p == 'b'"}], "mark": {"type": "tick", "color": "red", "size": 24, "thickness": 1.5, "opacity": 1},
         "encoding": {"y": {"field": "md", "type": "quantitative", "scale": {"domain": [-0.032, 1.035], "nice": false, "zero": false}, "axis": {"values": [0, 0.2, 0.4, 0.6, 0.8, 1], "format": ".1~f", "title": "Kolmogorov-Smirnov test"}}}},
        {"data": {"name": "out"}, "transform": [{"filter": "datum.p == 'b'"}], "mark": {"type": "point", "filled": true, "color": "black", "size": 55, "opacity": 1, "shape": "circle"},
         "encoding": {"y": {"field": "v", "type": "quantitative", "scale": {"domain": [-0.032, 1.035], "nice": false, "zero": false}, "axis": {"values": [0, 0.2, 0.4, 0.6, 0.8, 1], "format": ".1~f", "title": "Kolmogorov-Smirnov test"}}}},
        {"data": {"name": "pts"}, "transform": [{"filter": "datum.p == 'b'"}], "mark": {"type": "point", "filled": true, "size": 110, "opacity": 1, "strokeWidth": 0},
         "encoding": {
           "y": {"field": "v", "type": "quantitative", "scale": {"domain": [-0.032, 1.035], "nice": false, "zero": false}, "axis": {"values": [0, 0.2, 0.4, 0.6, 0.8, 1], "format": ".1~f", "title": "Kolmogorov-Smirnov test"}},
           "color": {"field": "r", "type": "nominal", "scale": {"domain": ["10 Mbps","20 Mbps","30 Mbps","40 Mbps","50 Mbps"], "range": ["#9e0142","#f88d52","#ffffbf","#88d0a4","#5e4fa2"]},
             "legend": {"orient": "none", "legendX": 178, "legendY": -68.5, "direction": "horizontal", "columns": 5, "columnPadding": 59.75, "gridAlign": "none", "title": " ", "titleOrient": "bottom", "titleFontSize": 20, "titlePadding": 8, "padding": 10, "strokeColor": "black", "symbolType": "circle", "symbolSize": 100, "symbolStrokeWidth": 0, "symbolOpacity": 1, "labelFontSize": 17, "labelFont": "Liberation Serif", "labelColor": "black", "labelOffset": 4}},
           "shape": {"field": "f", "type": "nominal", "scale": {"domain": ["30 FPS","60 FPS"], "range": ["circle", "M-1.25,-0.9L-0.9,-1.25L0,-0.35L0.9,-1.25L1.25,-0.9L0.35,0L1.25,0.9L0.9,1.25L0,0.35L-0.9,1.25L-1.25,0.9L-0.35,0Z"]},
             "legend": {"orient": "none", "legendX": 409, "legendY": -32.5, "direction": "horizontal", "columns": 2, "columnPadding": 58, "title": null, "padding": 0, "symbolSize": 100, "symbolFillColor": "black", "symbolStrokeColor": "black", "symbolStrokeWidth": 0, "symbolOpacity": 1, "labelFontSize": 17, "labelFont": "Liberation Serif", "labelColor": "black", "labelOffset": 4}}
         }}
      ]
    }
  ],
  "config": {
    "font": "Liberation Serif",
    "view": {"stroke": "black", "strokeWidth": 1},
    "legend": {"labelFont": "Liberation Serif", "titleFont": "Liberation Serif"},
    "axis": {"labelFont": "Liberation Serif", "titleFont": "Liberation Serif", "labelColor": "black", "titleColor": "black", "tickColor": "#333333", "domainColor": "black", "titleFontWeight": "normal", "labelFontSize": 18.5, "titleFontSize": 18.3, "gridColor": "#bfbfbf", "gridWidth": 1, "tickWidth": 1},
    "axisY": {"labelFont": "DejaVu Serif", "labelFontSize": 17, "tickSize": 10, "labelPadding": 8, "titlePadding": 22.5, "grid": true},
    "axisX": {"labelAngle": -45, "tickSize": 10, "labelPadding": 3, "labelOffset": -10, "grid": false, "labelLimit": 400},
    "title": {"font": "Liberation Serif", "fontSize": 21.6, "fontWeight": "normal", "color": "black"}
  }
}
